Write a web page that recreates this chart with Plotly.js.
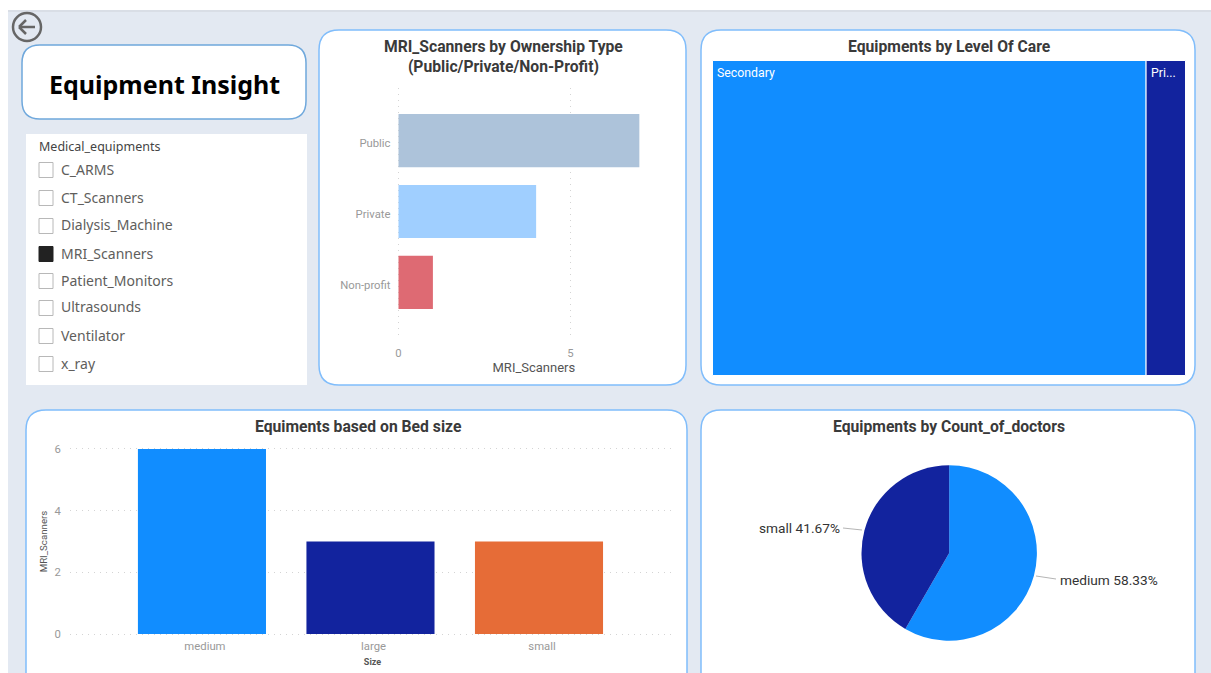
<!DOCTYPE html>
<html><head><meta charset="utf-8">
<script src="https://cdn.plot.ly/plotly-3.0.1.min.js"></script>
<style>html,body{margin:0;padding:0;background:#fff;overflow:hidden}</style>
</head><body><div id="chart" style="width:1211px;height:673px"></div>
<script>
// ---- data ----
const ownershipTypes = ['Public','Private','Non-profit'];
const ownershipValues = [7,4,1];
const ownershipColors = ['#adc3da','#a0cfff','#de6a73'];
const careLevels = ['Secondary','Pri...'];
const careValues = [11,1];
const careColors = ['#118dff','#12239e'];
const bedSizes = ['medium','large','small'];
const bedValues = [6,3,3];
const bedColors = ['#118dff','#12239e','#e66c37'];
const doctorSizes = ['medium','small'];
const doctorValues = [7,5];
const doctorColors = ['#118dff','#12239e'];
const slicerItems = ['C_ARMS','CT_Scanners','Dialysis_Machine','MRI_Scanners','Patient_Monitors','Ultrasounds','Ventilator','x_ray'];
const slicerSelected = 'MRI_Scanners';

// ---- helpers ----
const W=1211,H=673;
const px=x=>x/W, py=y=>1-y/H;
const P=(x,y)=>px(x)+' '+py(y);
function rrect(x0,y0,x1,y1,r,fill,line){
  return {type:'path',xref:'paper',yref:'paper',layer:'below',fillcolor:fill,
    line:{color:line||'rgba(0,0,0,0)',width:line?1.5:0},
    path:`M ${P(x0+r,y0)} L ${P(x1-r,y0)} Q ${P(x1,y0)} ${P(x1,y0+r)} L ${P(x1,y1-r)} Q ${P(x1,y1)} ${P(x1-r,y1)} L ${P(x0+r,y1)} Q ${P(x0,y1)} ${P(x0,y1-r)} L ${P(x0,y0+r)} Q ${P(x0,y0)} ${P(x0+r,y0)} Z`};
}
function box(x0,y0,x1,y1,fill,line,width,layer){
  return {type:'rect',xref:'paper',yref:'paper',layer:layer||'below',x0:px(x0),x1:px(x1),y0:py(y0),y1:py(y1),
    fillcolor:fill,line:{color:line||'rgba(0,0,0,0)',width:line?(width||1):0}};
}
function seg(x0,y0,x1,y1,color,width){
  return {type:'line',xref:'paper',yref:'paper',layer:'above',x0:px(x0),x1:px(x1),y0:py(y0),y1:py(y1),line:{color:color,width:width}};
}
function note(text,x,y,size,color,anchor,bold,family){
  return {text:bold?'<b>'+text+'</b>':text,xref:'paper',yref:'paper',x:px(x),y:py(y),xanchor:anchor||'center',yanchor:'middle',
    showarrow:false,font:{size:size,color:color,family:family||'Roboto, sans-serif'}};
}
const panelLine='#80bdfb';
const shapes=[
  box(0,0,W,10,'#ffffff'), box(0,0,8,H,'#ffffff'), box(8,10,W,12,'#d9dee6'),
  rrect(22,45,306,119,18,'#ffffff','#6fa8dc'),
  box(26,134,307,385,'#ffffff'),
  rrect(319,30,686,385,20,'#ffffff',panelLine),
  rrect(701,30,1195,385,20,'#ffffff',panelLine),
  rrect(26,410,687,705,20,'#ffffff',panelLine),
  rrect(701,410,1195,705,20,'#ffffff',panelLine),
  {type:'circle',xref:'paper',yref:'paper',layer:'above',x0:px(13),x1:px(41),y0:py(13),y1:py(41),line:{color:'#666666',width:2.5},fillcolor:'rgba(0,0,0,0)'},
  seg(19,27,35,27,'#666666',2.5), seg(19,27,26,20,'#666666',2.5), seg(19,27,26,34,'#666666',2.5),
  seg(1036,576,1056,579,'#b5b5b5',1), seg(843,528,862,530,'#b5b5b5',1)
];
const titleFont='Roboto, sans-serif';
const titleSize=15.7;
const annotations=[
  note('Equipment Insight',164.5,84,25,'#000000','center',true,'Noto Sans, sans-serif'),
  note('MRI_Scanners by Ownership Type<br>(Public/Private/Non-Profit)',503.5,56,titleSize,'#3a3a3a','center',true),
  note('Equipments by Level Of Care',949,47,titleSize,'#3a3a3a','center',true),
  note('Equiments based on Bed size',358,426,titleSize,'#3a3a3a','center',true),
  note('Equipments by Count_of_doctors',949,426,titleSize,'#3a3a3a','center',true),
  note('Medical_equipments',37,146,12.5,'#444444','left',false,'Noto Sans, sans-serif'),
  note(careLevels[0],715,73,12.3,'#ffffff','left'),
  note(careLevels[1],1149,73,12.3,'#ffffff','left')
];
const total=doctorValues.reduce((a,b)=>a+b,0);
const pct=v=>(100*v/total).toFixed(2)+'%';
annotations.push(note(doctorSizes[0]+' '+pct(doctorValues[0]),1058,580,13.7,'#333333','left'));
annotations.push(note(doctorSizes[1]+' '+pct(doctorValues[1]),757,528,13.7,'#333333','left'));
const rowY=[170,198,226,254,281,308,336,364];
slicerItems.forEach((s,i)=>{
  const on=s===slicerSelected;
  shapes.push(box(39,rowY[i]-7.5,53,rowY[i]+7.5,on?'#222222':'#ffffff',on?'#222222':'#b8b8b8',1));
  annotations.push(note(s,59,rowY[i]-1,14,'#605e5c','left',false,'Noto Sans, sans-serif'));
});

// ---- traces ----
const data=[
 {type:'bar',orientation:'h',x:ownershipValues,y:ownershipTypes,marker:{color:ownershipColors},width:0.75,xaxis:'x',yaxis:'y',hoverinfo:'skip'},
 {type:'bar',x:bedSizes,y:bedValues,marker:{color:bedColors},width:0.76,xaxis:'x2',yaxis:'y2',hoverinfo:'skip'},
 {type:'treemap',labels:careLevels,parents:['',''],values:careValues,branchvalues:'total',sort:true,
  marker:{colors:careColors,pad:{t:0,l:0,r:0,b:0},line:{color:'#ffffff',width:1}},
  tiling:{packing:'dice',pad:0},pathbar:{visible:false},textinfo:'none',
  domain:{x:[px(712.5),px(1185.5)],y:[py(375.5),py(60.5)]},hoverinfo:'skip'},
 {type:'pie',labels:doctorSizes,values:doctorValues,sort:false,direction:'clockwise',rotation:0,
  marker:{colors:doctorColors,line:{width:0}},textinfo:'none',showlegend:false,
  domain:{x:[px(861.5),px(1036.9)],y:[py(640.7),py(465.3)]},hoverinfo:'skip'}
];
const gridc='#d4d4d4';
const gridd='1px,5px';
const tickf={size:11.3,color:'#999999',family:titleFont};
const layout={
 width:W,height:H,margin:{l:0,r:0,t:0,b:0},paper_bgcolor:'#e3e9f2',plot_bgcolor:'rgba(0,0,0,0)',
 showlegend:false,shapes:shapes,annotations:annotations,font:{family:titleFont},
 xaxis:{domain:[px(396.78),px(671)],range:[-0.05,7.92],dtick:5,tick0:0,anchor:'y',showgrid:true,griddash:gridd,gridcolor:gridc,zeroline:false,showline:false,
   ticks:'outside',ticklen:7,tickcolor:'rgba(0,0,0,0)',tickfont:tickf,
   title:{text:'MRI_Scanners',font:{size:13,color:'#555555',family:titleFont},standoff:4}},
 yaxis:{domain:[py(335),py(88)],range:[2.74,-0.74],type:'category',categoryorder:'array',categoryarray:ownershipTypes,anchor:'x',showgrid:false,zeroline:false,showline:false,
   ticks:'outside',ticklen:3,tickcolor:'rgba(0,0,0,0)',tickfont:tickf,ticklabelshift:-3},
 xaxis2:{domain:[px(70),px(675)],range:[-0.783,2.807],type:'category',categoryorder:'array',categoryarray:bedSizes,anchor:'y2',showgrid:false,zeroline:false,showline:false,
   ticks:'outside',ticklen:0,tickcolor:'rgba(0,0,0,0)',tickfont:tickf,ticklabelshift:3,
   title:{text:'<b>Size</b>',font:{size:9,color:'#555555',family:titleFont},standoff:6}},
 yaxis2:{domain:[py(635.55),py(447.45)],range:[-0.05,6.05],dtick:2,anchor:'x2',showgrid:true,griddash:gridd,gridcolor:gridc,zeroline:false,showline:false,
   ticks:'outside',ticklen:6,tickcolor:'rgba(0,0,0,0)',tickfont:tickf,
   title:{text:'MRI_Scanners',font:{size:9.7,color:'#555555',family:titleFont},standoff:4}}
};
Plotly.newPlot('chart',data,layout,{displayModeBar:false,staticPlot:true});
</script></body></html>
